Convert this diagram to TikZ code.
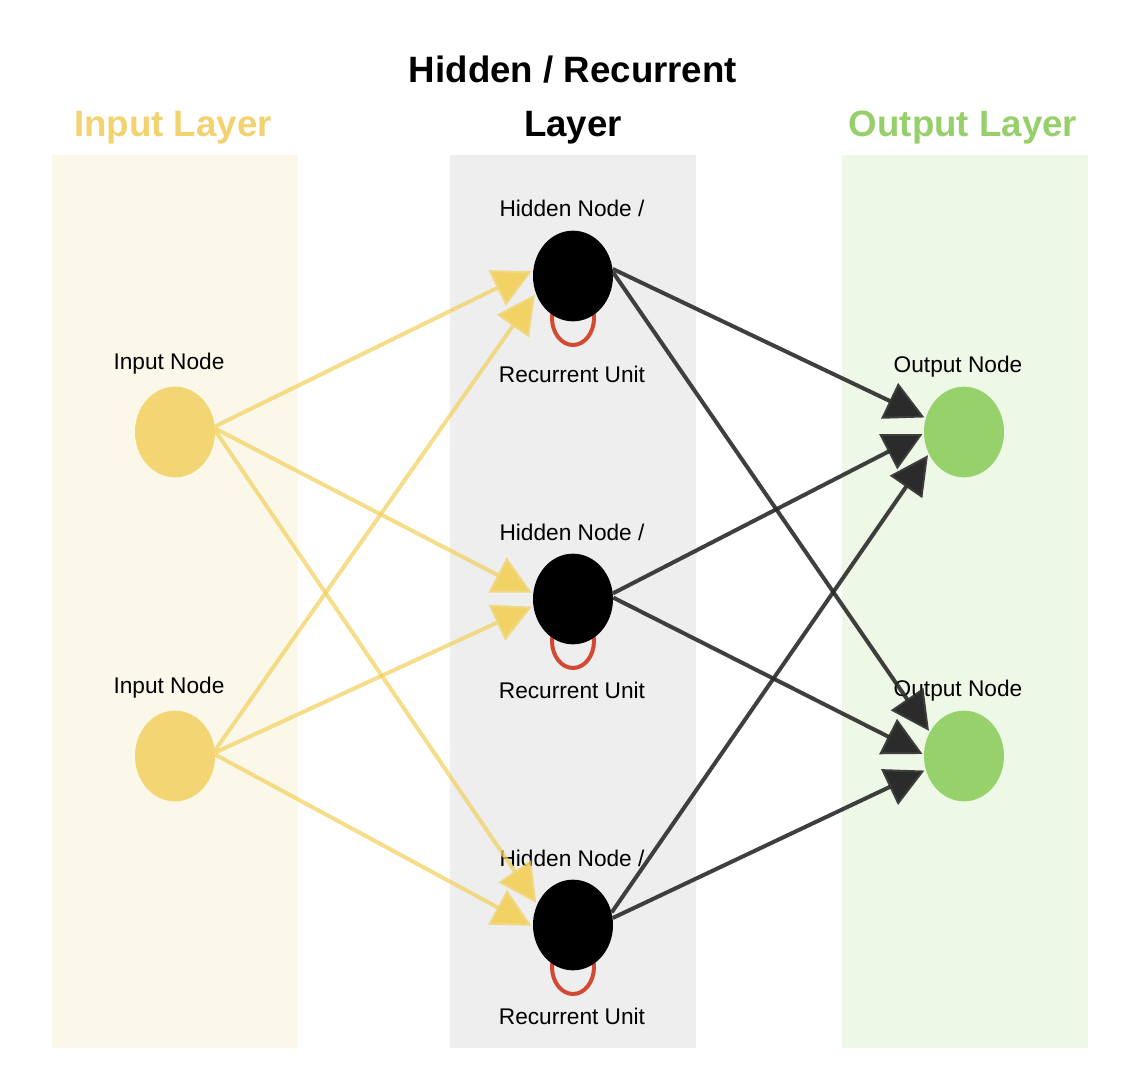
\documentclass[tikz,border=0pt]{standalone}
\usepackage{fontspec}
\setmainfont{Liberation Sans}
\usetikzlibrary{arrows.meta,shapes.geometric}
\definecolor{inband}{HTML}{FCF8E9}
\definecolor{hidband}{HTML}{EEEEEE}
\definecolor{outband}{HTML}{EDF8E7}
\definecolor{inyel}{HTML}{F3D574}
\definecolor{outgrn}{HTML}{97D16B}
\definecolor{titleyel}{HTML}{F3D370}
\definecolor{titlegrn}{HTML}{97D06A}
\definecolor{loopred}{HTML}{D24A31}
\definecolor{edgeyel}{HTML}{F2D264}
\definecolor{edgeblk}{HTML}{2B2B2B}
\pgfdeclarelayer{bands}
\pgfdeclarelayer{loops}
\pgfsetlayers{bands,loops,main}
\tikzset{
  title/.style={font=\bfseries\fontsize{27.5}{32}\selectfont, anchor=base, inner sep=0pt},
  lbl/.style={font=\fontsize{17}{20}\selectfont, anchor=base, inner sep=0pt},
  unit/.style={ellipse, minimum width=60pt, minimum height=68pt, inner sep=0pt, draw=none},
  inunit/.style={unit, fill=inyel},
  hidunit/.style={unit, fill=black},
  outunit/.style={unit, fill=outgrn},
  recloop/.style={draw=loopred, line width=3pt},
  yedge/.style={draw=edgeyel, draw opacity=0.75, line width=3pt,
    -{Triangle[length=29pt,width=29pt,fill=edgeyel]}, shorten >=1pt},
  kedge/.style={draw=edgeblk, draw opacity=0.9, line width=3pt,
    -{Triangle[length=29pt,width=29pt,fill=edgeblk]}, shorten >=1pt}
}
\begin{document}
\begin{tikzpicture}[x=0.75pt,y=-0.75pt]
\useasboundingbox (0,0) rectangle (1140,1092);
\begin{pgfonlayer}{bands}
  \fill[white] (0,0) rectangle (1140,1092);
  \fill[inband] (52,155) rectangle (298,1048);
  \fill[hidband] (450,155) rectangle (696,1048);
  \fill[outband] (842,155) rectangle (1088,1048);
\end{pgfonlayer}

% titles
\node[title, text=titleyel] (tin) at (173,136) {Input Layer};
\node[title] (thid1) at (573,82) {Hidden / Recurrent};
\node[title] (thid2) at (573,136) {Layer};
\node[title, text=titlegrn] (tout) at (963,136) {Output Layer};

% units
\node[inunit] (i1) at (175,432) {};
\node[inunit] (i2) at (175,756) {};
\node[hidunit] (h1) at (573,276) {};
\node[hidunit] (h2) at (573,599) {};
\node[hidunit] (h3) at (573,925) {};
\node[outunit] (o1) at (964,432) {};
\node[outunit] (o2) at (964,756) {};

% recurrent loops
\begin{pgfonlayer}{loops}
  \draw[recloop] (573,318) ellipse [x radius=21, y radius=27];
  \draw[recloop] (573,641) ellipse [x radius=21, y radius=27];
  \draw[recloop] (573,967) ellipse [x radius=21, y radius=27];
\end{pgfonlayer}

% labels
\node[lbl] (li1) at (169,369) {Input Node};
\node[lbl] (li2) at (169,693) {Input Node};
\node[lbl] (lh1a) at (572,216) {Hidden Node /};
\node[lbl] (lh1b) at (572,382) {Recurrent Unit};
\node[lbl] (lh2a) at (572,540) {Hidden Node /};
\node[lbl] (lh2b) at (572,698) {Recurrent Unit};
\node[lbl] (lh3a) at (572,866) {Hidden Node /};
\node[lbl] (lh3b) at (572,1024) {Recurrent Unit};
\node[lbl] (lo1) at (958,372) {Output Node};
\node[lbl] (lo2) at (958,696) {Output Node};

% input -> hidden
\draw[yedge] (i1.8) -- (h1.172);
\draw[yedge] (i1.5) -- (h2.172);
\draw[yedge] (i1.2) -- (h3.150);
\draw[yedge] (i2.8) -- (h1.205);
\draw[yedge] (i2.5) -- (h2.190);
\draw[yedge] (i2.2) -- (h3.182);

% hidden -> output
\draw[kedge] (h1.10) -- (o1.160);
\draw[kedge] (h1.5) -- (o2.145);
\draw[kedge] (h2.8) -- (o1.182);
\draw[kedge] (h2.2) -- (o2.178);
\draw[kedge] (h3.18) -- (o1.212);
\draw[kedge] (h3.10) -- (o2.200);
\end{tikzpicture}
\end{document}
